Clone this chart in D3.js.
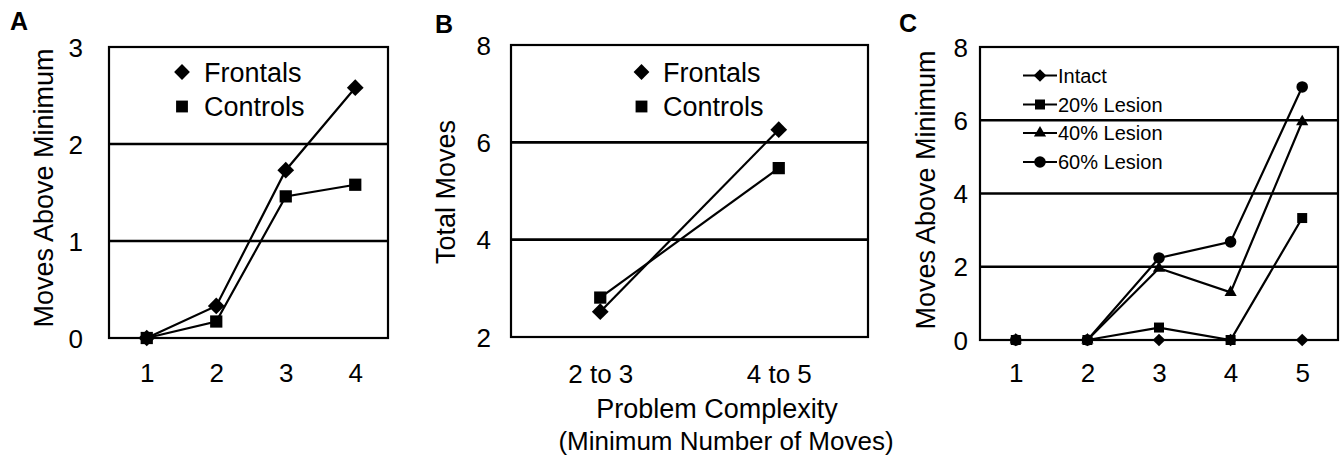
<!DOCTYPE html>
<html>
<head>
<meta charset="utf-8">
<script src="https://cdn.jsdelivr.net/npm/d3@7"></script>
<style>
  html, body { margin: 0; padding: 0; background: #fff; }
  svg { display: block; }
  text { font-family: "Liberation Sans", Arial, Helvetica, sans-serif; fill: #000; }
</style>
</head>
<body>
<svg id="chart" width="1342" height="459"></svg>
<script>
// ---------- DATA ----------
const catsA = ["1", "2", "3", "4"];
const frontalsA = [0, 0.33, 1.73, 2.58];
const controlsA = [0, 0.17, 1.46, 1.58];
const ticksA = [0, 1, 2, 3];

const catsB = ["2 to 3", "4 to 5"];
const frontalsB = [2.52, 6.26];
const controlsB = [2.81, 5.47];
const ticksB = [2, 4, 6, 8];

const catsC = ["1", "2", "3", "4", "5"];
const intactC = [0, 0, 0, 0, 0];
const lesion20C = [0, 0, 0.34, 0, 3.33];
const lesion40C = [0, 0, 1.96, 1.30, 5.96];
const lesion60C = [0, 0, 2.24, 2.68, 6.91];
const ticksC = [0, 2, 4, 6, 8];

const legendAB = ["Frontals", "Controls"];
const legendC = ["Intact", "20% Lesion", "40% Lesion", "60% Lesion"];

// ---------- DRAW ----------
const svg = d3.select("#chart");

function markerPath(kind, size) {
  if (kind === "diamond") return d3.symbol().type(d3.symbolSquare).size(size)();
  if (kind === "square") return d3.symbol().type(d3.symbolSquare).size(size)();
  if (kind === "triangle") return d3.symbol().type(d3.symbolTriangle).size(size)();
  return d3.symbol().type(d3.symbolCircle).size(size)();
}
function drawMarker(g, kind, size, x, y) {
  const p = g.append("path").attr("d", markerPath(kind, size)).attr("fill", "#000");
  p.attr("transform", `translate(${x},${y})` + (kind === "diamond" ? " rotate(45)" : ""));
}

function panel(opt) {
  const g = svg.append("g");
  const x = d3.scalePoint().domain(opt.cats).range(opt.xRange).padding(0.5);
  const y = d3.scaleLinear().domain(opt.yDomain).range([opt.bottom, opt.top]);

  // gridlines (interior ticks)
  g.append("g").selectAll("line")
    .data(opt.ticks.filter(t => t !== opt.yDomain[0] && t !== opt.yDomain[1]))
    .join("line")
    .attr("x1", opt.left).attr("x2", opt.right)
    .attr("y1", d => y(d)).attr("y2", d => y(d))
    .attr("stroke", "#000").attr("stroke-width", 2.6);

  // box
  g.append("rect")
    .attr("x", opt.left).attr("y", y(opt.yDomain[1]))
    .attr("width", opt.right - opt.left)
    .attr("height", y(opt.yDomain[0]) - y(opt.yDomain[1]))
    .attr("fill", "none").attr("stroke", "#000").attr("stroke-width", 2.2);

  // y axis labels via d3 axis
  const yAxis = d3.axisLeft(y).tickValues(opt.ticks).tickSize(0).tickPadding(0).tickFormat(d3.format("d"));
  const ya = g.append("g").attr("transform", `translate(${opt.yLabelX},0)`).call(yAxis);
  ya.select(".domain").remove();
  ya.selectAll("text").attr("font-size", opt.tickFont).attr("dy", "0.35em")
    .style("font-family", '"Liberation Sans", Arial, sans-serif').attr("fill", "#000");

  // x axis labels
  const xAxis = d3.axisBottom(x).tickSize(0).tickPadding(0);
  const xa = g.append("g").attr("transform", `translate(0,${opt.xLabelY})`).call(xAxis);
  xa.select(".domain").remove();
  xa.selectAll("text").attr("font-size", opt.tickFont).attr("dy", 0).attr("y", 0)
    .style("font-family", '"Liberation Sans", Arial, sans-serif').attr("fill", "#000");

  // y title
  g.append("text")
    .attr("transform", `translate(${opt.yTitleX},${opt.yTitleY}) rotate(-90)`)
    .attr("text-anchor", "middle").attr("font-size", opt.titleFont)
    .text(opt.yTitle);

  // panel letter
  g.append("text").attr("x", opt.letterX).attr("y", opt.letterY)
    .attr("font-size", 25).attr("font-weight", "bold").text(opt.letter);

  // series
  const line = d3.line().x((d, i) => x(opt.cats[i])).y(d => y(d));
  opt.series.forEach(s => {
    g.append("path").attr("d", line(s.values)).attr("fill", "none")
      .attr("stroke", "#000").attr("stroke-width", 2.2);
  });
  opt.series.forEach(s => {
    s.values.forEach((v, i) => drawMarker(g, s.marker, s.size, x(opt.cats[i]), y(v)));
  });
  return {g, x, y};
}

// Panel A
const pA = panel({
  cats: catsA, yDomain: [0, 3], ticks: ticksA,
  left: 109, right: 388, top: 47, bottom: 338, xRange: [112, 390],
  yLabelX: 83, xLabelY: 382, tickFont: 26, titleFont: 27,
  yTitle: "Moves Above Minimum", yTitleX: 53, yTitleY: 188,
  letter: "A", letterX: 10, letterY: 30,
  series: [
    {values: controlsA, marker: "square", size: 150},
    {values: frontalsA, marker: "diamond", size: 140}
  ]
});
// Legend A
[ {name: legendAB[0], marker: "diamond", size: 125, y: 72},
  {name: legendAB[1], marker: "square", size: 140, y: 106.5} ].forEach(d => {
  drawMarker(pA.g, d.marker, d.size, 182, d.y);
  pA.g.append("text").attr("x", 204).attr("y", d.y + 9.5).attr("font-size", 27).text(d.name);
});

// Panel B
const pB = panel({
  cats: catsB, yDomain: [2, 8], ticks: ticksB,
  left: 511, right: 868, top: 45, bottom: 337, xRange: [511, 868],
  yLabelX: 491, xLabelY: 383, tickFont: 26, titleFont: 27,
  yTitle: "Total Moves", yTitleX: 455, yTitleY: 192,
  letter: "B", letterX: 435, letterY: 33,
  series: [
    {values: controlsB, marker: "square", size: 150},
    {values: frontalsB, marker: "diamond", size: 140}
  ]
});
[ {name: legendAB[0], marker: "diamond", size: 125, y: 72},
  {name: legendAB[1], marker: "square", size: 140, y: 106.5} ].forEach(d => {
  drawMarker(pB.g, d.marker, d.size, 641.5, d.y);
  pB.g.append("text").attr("x", 663).attr("y", d.y + 9.5).attr("font-size", 27).text(d.name);
});
// B x-axis title
pB.g.append("text").attr("x", 717).attr("y", 418).attr("text-anchor", "middle")
  .attr("font-size", 27).text("Problem Complexity");
pB.g.append("text").attr("x", 726).attr("y", 450).attr("text-anchor", "middle")
  .attr("font-size", 26).text("(Minimum Number of Moves)");

// Panel C
const seriesC = [
  {values: intactC, marker: "diamond", size: 80},
  {values: lesion20C, marker: "square", size: 100},
  {values: lesion40C, marker: "triangle", size: 64},
  {values: lesion60C, marker: "circle", size: 105}
];
const pC = panel({
  cats: catsC, yDomain: [0, 8], ticks: ticksC,
  left: 980, right: 1338, top: 47, bottom: 340, xRange: [980, 1338],
  yLabelX: 968, xLabelY: 382, tickFont: 26, titleFont: 27,
  yTitle: "Moves Above Minimum", yTitleX: 935, yTitleY: 190,
  letter: "C", letterX: 899, letterY: 32,
  series: seriesC
});
const legYC = [75.5, 104.5, 133, 162];
seriesC.forEach((s, i) => {
  pC.g.append("line").attr("x1", 1023).attr("x2", 1057)
    .attr("y1", legYC[i]).attr("y2", legYC[i]).attr("stroke", "#000").attr("stroke-width", 2.2);
  drawMarker(pC.g, s.marker, s.size, 1040, legYC[i]);
  pC.g.append("text").attr("x", 1058).attr("y", legYC[i] + 7).attr("font-size", 20).text(legendC[i]);
});
</script>
</body>
</html>
